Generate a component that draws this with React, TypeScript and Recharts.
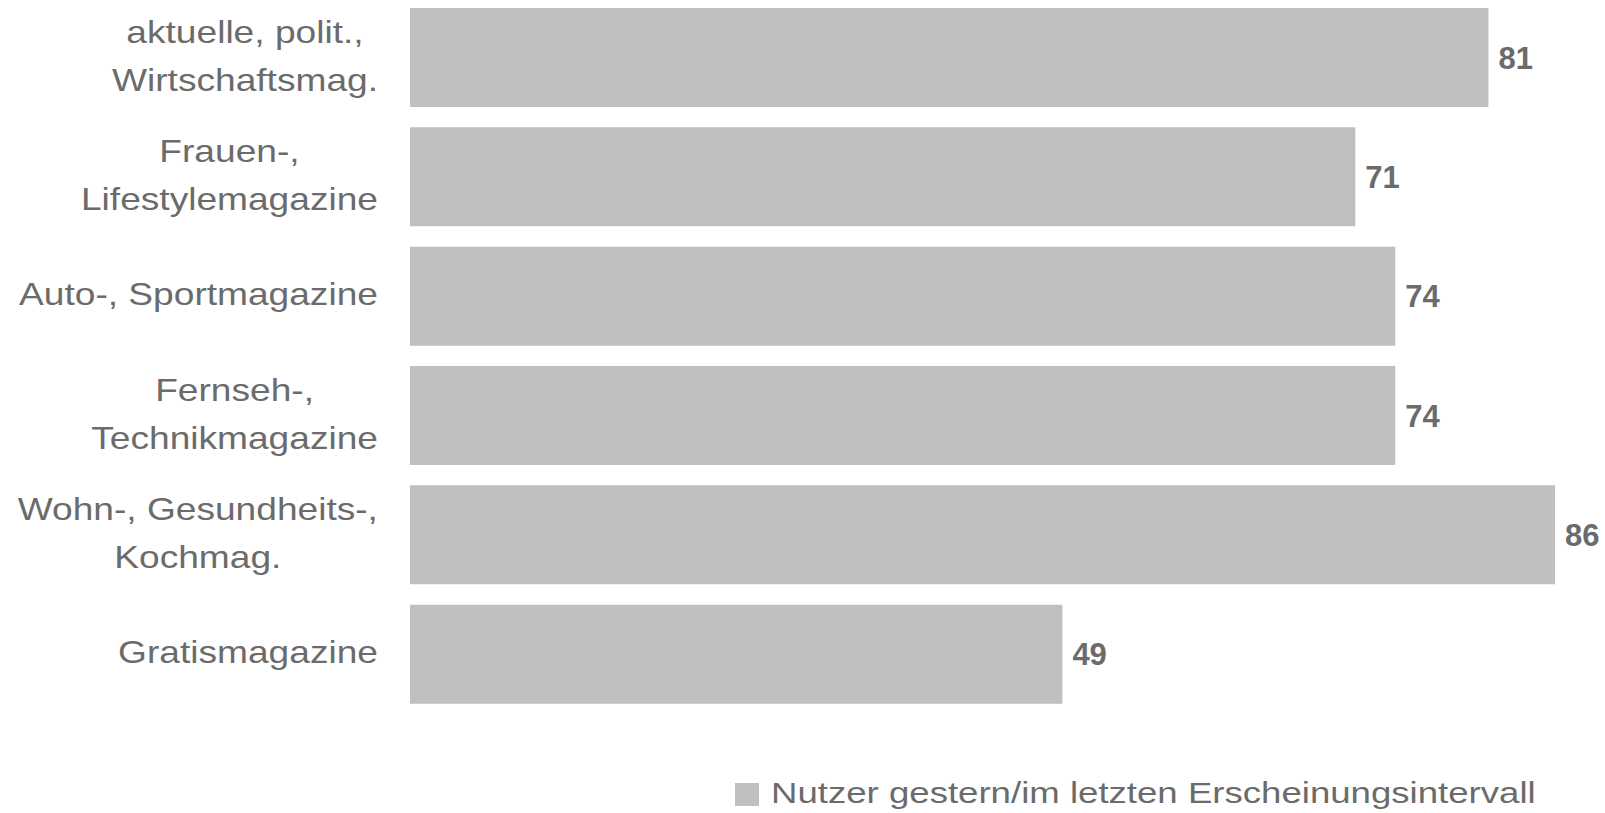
import { BarChart, Bar, XAxis, YAxis, Legend, LabelList } from 'recharts';

const categories = [
  'aktuelle, polit.,\nWirtschaftsmag.',
  'Frauen-,\nLifestylemagazine',
  'Auto-, Sportmagazine',
  'Fernseh-,\nTechnikmagazine',
  'Wohn-, Gesundheits-,\nKochmag.',
  'Gratismagazine',
];
const nutzerValues = [81, 71, 74, 74, 86, 49];
const seriesName = 'Nutzer gestern/im letzten Erscheinungsintervall';

const chartData = categories.map((name, i) => ({ name, nutzer: nutzerValues[i] }));

const FONT = '"Liberation Sans", Arial, sans-serif';
const TEXT = '#6b6b6b';
const BAR = '#bfbfbf';
const TICK_SIZE = 32;

// measure line widths so multi-line labels can be centred within their block
let ctx: CanvasRenderingContext2D | null = null;
function textWidth(s: string) {
  if (!ctx) ctx = document.createElement('canvas').getContext('2d');
  if (!ctx) return s.length * TICK_SIZE * 0.5;
  ctx.font = `${TICK_SIZE}px ${FONT}`;
  return ctx.measureText(s).width;
}

function CategoryTick(props: any) {
  const { x, y, payload } = props;
  const lines: string[] = String(payload.value).split('\n');
  const lineH = 48.3;
  const maxW = Math.max(...lines.map(textWidth));
  return (
    <g transform={`translate(${x},${y}) scale(1.16,1)`}>
      <text textAnchor="middle" fontSize={TICK_SIZE} fontFamily={FONT} fill={TEXT}>
        {lines.map((l, i) => (
          <tspan key={i} x={-maxW / 2} y={9 + (i - (lines.length - 1) / 2) * lineH}>
            {l}
          </tspan>
        ))}
      </text>
    </g>
  );
}

function LegendContent(props: any) {
  const item = props.payload?.[0];
  return (
    <svg width={830} height={40} style={{ display: 'block' }}>
      <rect x={0} y={11} width={24} height={23} fill={item?.color ?? BAR} />
      <g transform="translate(36,31) scale(1.22,1)">
        <text fontSize={30} fontFamily={FONT} fill={TEXT}>
          {item?.value ?? seriesName}
        </text>
      </g>
    </svg>
  );
}

export default function App() {
  return (
    <div style={{ position: 'absolute', left: 0, top: 0, background: '#fff' }}>
      <BarChart
        width={1605}
        height={813}
        data={chartData}
        layout="vertical"
        margin={{ top: -2, right: 50, bottom: 59, left: 10 }}
      >
        <XAxis type="number" domain={[0, 86]} hide />
        <YAxis
          type="category"
          dataKey="name"
          width={400}
          axisLine={false}
          tickLine={false}
          tickSize={0}
          tickMargin={32}
          interval={0}
          tick={<CategoryTick />}
        />
        <Legend
          verticalAlign="bottom"
          content={<LegendContent />}
          wrapperStyle={{ left: 735, top: 772, bottom: 'auto', width: 'auto' }}
        />
        <Bar dataKey="nutzer" name={seriesName} fill={BAR} barSize={99} isAnimationActive={false}>
          <LabelList
            dataKey="nutzer"
            position="right"
            offset={10}
            fill={TEXT}
            fontSize={31}
            fontWeight="bold"
            fontFamily={FONT}
          />
        </Bar>
      </BarChart>
    </div>
  );
}
